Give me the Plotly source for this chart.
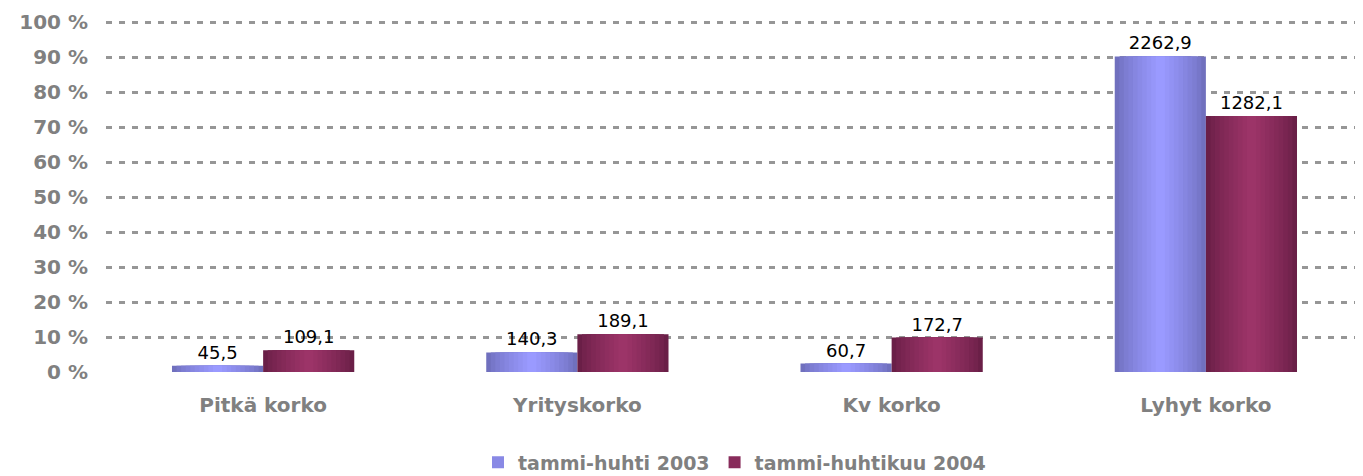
import plotly.graph_objects as go

categories = ["Pitkä korko", "Yrityskorko", "Kv korko", "Lyhyt korko"]
series_names = ["tammi-huhti 2003", "tammi-huhtikuu 2004"]
values_2003 = [45.5, 140.3, 60.7, 2262.9]
values_2004 = [109.1, 189.1, 172.7, 1282.1]
y_ticks = [0, 10, 20, 30, 40, 50, 60, 70, 80, 90, 100]

FONT = "DejaVu Sans, Verdana, sans-serif"
GRAY = "#808080"


def pct(vals):
    s = sum(vals)
    return [v / s * 100 for v in vals]


def fmt(v):
    return f"{v:.1f}".replace(".", ",")


def hex2rgb(h):
    h = h.lstrip("#")
    return tuple(int(h[i:i + 2], 16) for i in (0, 2, 4))


def mix(a, b, t):
    ca, cb = hex2rgb(a), hex2rgb(b)
    return "rgb(%d,%d,%d)" % tuple(round(ca[i] + (cb[i] - ca[i]) * t) for i in range(3))


W = 0.29
N = 10
series = [
    (series_names[0], values_2003, -W, "#7070BE", "#9A9AFF"),
    (series_names[1], values_2004, 0.0, "#6A1F47", "#9C3468"),
]

fig = go.Figure()
for name, vals, off, edge, mid in series:
    p = pct(vals)
    for k in range(N):
        f = 1 - k / N
        w = W * f
        t = (k / (N - 1)) ** 0.8
        fig.add_trace(go.Bar(
            x=categories, y=p, width=w, offset=off + (W - w) / 2,
            marker=dict(color=mix(edge, mid, t), line=dict(width=0)),
            showlegend=False, hoverinfo="skip",
            text=[fmt(v) for v in vals] if k == 0 else None,
            textposition="outside" if k == 0 else "none",
            textfont=dict(family=FONT, size=18, color="#000000"),
            cliponaxis=False,
        ))
    # legend entry
    fig.add_trace(go.Bar(
        x=[None], y=[None], name=name,
        marker=dict(color=mix(edge, mid, 0.6), line=dict(width=0)),
        showlegend=True,
    ))

# The page body has an 8px default margin, so the figure is sized and
# its margins set so that the plot area lands where the reference has it.
fig.update_layout(
    width=1355, height=468,
    barmode="overlay",
    plot_bgcolor="white", paper_bgcolor="white",
    margin=dict(l=98, r=0, t=13, b=104, autoexpand=False),
    font=dict(family=FONT, color=GRAY),
    showlegend=True,
    legend=dict(
        orientation="h", x=0.5, xanchor="center", y=-0.312, yanchor="bottom",
        font=dict(family=FONT, size=19, color=GRAY, weight="bold"),
        itemwidth=30, tracegroupgap=0,
    ),
    xaxis=dict(
        showgrid=False, showline=False, zeroline=False, ticks="",
        tickfont=dict(family=FONT, size=20, color=GRAY, weight="bold"),
        ticklabelstandoff=19,
    ),
    yaxis=dict(
        range=[0, 100.3], tickvals=y_ticks,
        ticktext=[f"{v} %" for v in y_ticks],
        showgrid=True, gridcolor="#969696", gridwidth=2.5, griddash="6px,7px",
        zeroline=False, showline=False, ticks="",
        tickfont=dict(family=FONT, size=20, color=GRAY, weight="bold"),
        ticklabelstandoff=17,
    ),
)

fig.write_html("out.html")
